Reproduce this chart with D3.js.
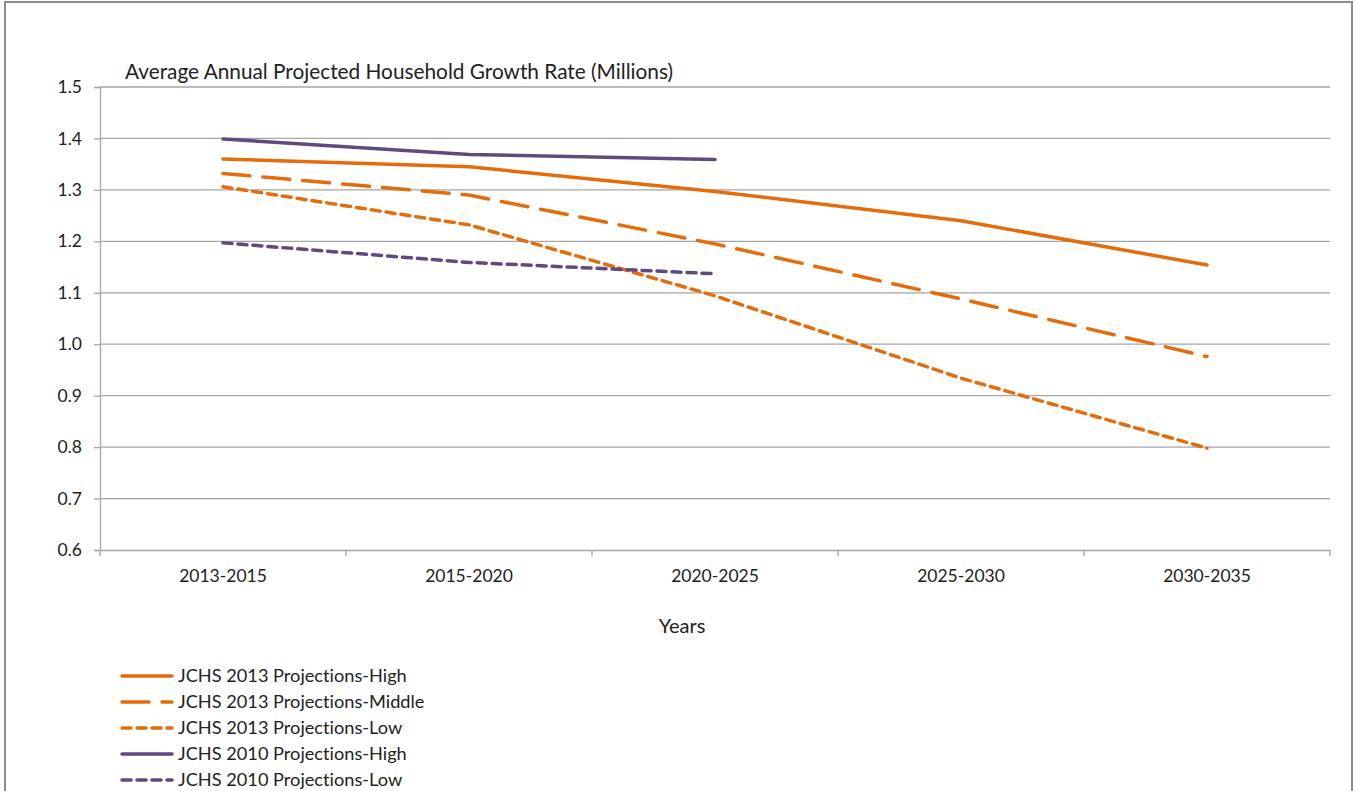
<!DOCTYPE html>
<html><head><meta charset="utf-8">
<script src="https://cdn.jsdelivr.net/npm/d3@7/dist/d3.min.js"></script>
<style>body{margin:0;background:#fff}svg{display:block}text{font-family:Lato,"Open Sans",sans-serif;fill:#222;font-variant-ligatures:none;font-feature-settings:"liga" 0,"clig" 0}</style>
</head><body>
<svg id="c" width="1356" height="791"></svg>
<script>
const categories = ["2013-2015","2015-2020","2020-2025","2025-2030","2030-2035"];
const yTicks = [0.6,0.7,0.8,0.9,1.0,1.1,1.2,1.3,1.4,1.5];
const high2013 = [1.36,1.345,1.297,1.24,1.154];
const middle2013 = [1.332,1.29,1.195,1.088,0.976];
const low2013 = [1.306,1.232,1.094,0.934,0.798];
const high2010 = [1.399,1.369,1.359];
const low2010 = [1.197,1.159,1.137];
const seriesNames = ["JCHS 2013 Projections-High","JCHS 2013 Projections-Middle","JCHS 2013 Projections-Low","JCHS 2010 Projections-High","JCHS 2010 Projections-Low"];
const titleText = "Average Annual Projected Household Growth Rate (Millions)";
const xTitle = "Years";

const ORANGE = "#E46C0A", PURPLE = "#5F4A7E";
const series = [
  {name: seriesNames[0], values: high2013, color: ORANGE, dash: null},
  {name: seriesNames[1], values: middle2013, color: ORANGE, dash: "27,13"},
  {name: seriesNames[2], values: low2013, color: ORANGE, dash: "9,6"},
  {name: seriesNames[3], values: high2010, color: PURPLE, dash: null},
  {name: seriesNames[4], values: low2010, color: PURPLE, dash: "9,6"}
];

const svg = d3.select("#c");
svg.append("rect").attr("x",5).attr("y",2).attr("width",1347).attr("height",820)
  .attr("fill","none").attr("stroke","#8c8c8c").attr("stroke-width",2);

const L = 100, R = 1330, T = 87, B = 550;
const x = d3.scaleBand().domain(categories).range([L,R]);
const y = d3.scaleLinear().domain([0.6,1.5]).range([B,T]);

svg.append("g").selectAll("line").data(yTicks.filter(d=>d>0.6)).join("line")
  .attr("x1",L).attr("x2",R).attr("y1",d=>y(d)).attr("y2",d=>y(d))
  .attr("stroke","#a6a6a6").attr("stroke-width",1.3);

const yAxis = svg.append("g").attr("transform",`translate(${L},0)`)
  .call(d3.axisLeft(y).tickValues(yTicks).tickFormat(d3.format(".1f")).tickSize(6).tickPadding(12));
yAxis.select(".domain").attr("stroke","#a6a6a6").attr("stroke-width",1.3);
yAxis.selectAll(".tick line").attr("stroke","#a6a6a6").attr("stroke-width",1.3);
yAxis.selectAll("text").attr("font-size",17.5).attr("fill","#222").style("font-family","Lato,'Open Sans',sans-serif");

const xAxis = svg.append("g").attr("transform",`translate(0,${B})`)
  .call(d3.axisBottom(x).tickSize(0).tickPadding(20));
xAxis.select(".domain").attr("stroke","#a6a6a6").attr("stroke-width",1.3);
xAxis.selectAll("text").attr("font-size",17.5).attr("fill","#222").style("font-family","Lato,'Open Sans',sans-serif");
const bounds = categories.map(c=>x(c)).concat([R]);
svg.append("g").selectAll("line").data(bounds).join("line")
  .attr("x1",d=>d).attr("x2",d=>d).attr("y1",B).attr("y2",B+6)
  .attr("stroke","#a6a6a6").attr("stroke-width",1.3);

const line = d3.line().x((d,i)=>x(categories[i])+x.bandwidth()/2).y(d=>y(d));
svg.append("g").selectAll("path").data(series).join("path")
  .attr("d",d=>line(d.values)).attr("fill","none").attr("stroke",d=>d.color)
  .attr("stroke-width",3.5).attr("stroke-dasharray",d=>d.dash)
  .attr("stroke-linecap","round").attr("stroke-linejoin","round");

svg.append("text").attr("x",125).attr("y",79).attr("font-size",20.8).text(titleText);
svg.append("text").attr("x",682).attr("y",633).attr("text-anchor","middle").attr("font-size",20).text(xTitle);

const lg = svg.append("g").selectAll("g").data(series).join("g")
  .attr("transform",(d,i)=>`translate(0,${676+i*26})`);
lg.append("line").attr("x1",122).attr("x2",172).attr("y1",0).attr("y2",0)
  .attr("stroke",d=>d.color).attr("stroke-width",3.5).attr("stroke-dasharray",d=>d.dash)
  .attr("stroke-linecap","round");
lg.append("text").attr("x",178).attr("y",6).attr("font-size",18.2).text(d=>d.name);
</script>
</body></html>
